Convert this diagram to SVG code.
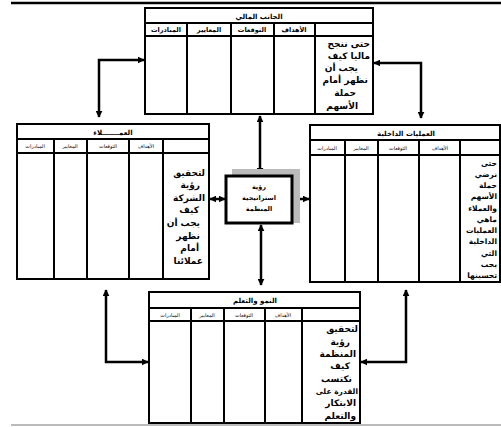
<svg xmlns="http://www.w3.org/2000/svg" width="501" height="427" viewBox="0 0 501 427">
<style>
.box{fill:#fff;stroke:#000;stroke-width:2}
.ln{stroke:#000;stroke-width:2}
.cn{fill:none;stroke:#000;stroke-width:2.5}
.t{font-family:"DejaVu Sans",sans-serif;font-weight:bold;fill:#000}
.ttl{font-size:7px;text-anchor:middle}
.hd{font-size:5px;font-weight:normal;text-anchor:middle}
.hb{font-size:6.5px;text-anchor:middle}
.bd{font-size:9px;text-anchor:end}
.bs{font-size:7.5px;text-anchor:end}
.cb{font-size:6.5px;text-anchor:middle}
</style>
<defs>
<marker id="ah" viewBox="0 0 10 10" refX="9" refY="5" markerWidth="7" markerHeight="7" markerUnits="userSpaceOnUse" orient="auto-start-reverse">
<path d="M0,0 L10,5 L0,10 z" fill="#000"/>
</marker>
</defs>
<rect width="501" height="427" fill="#fff"/>
<line x1="11" y1="3" x2="501" y2="3" stroke="#000" stroke-width="2.5"/>
<line x1="11" y1="425" x2="501" y2="425" stroke="#777" stroke-width="1"/>

<g id="connectors">
<path class="cn" d="M99,117 L99,60 L144,60" marker-start="url(#ah)" marker-end="url(#ah)"/>
<path class="cn" d="M421,118 L421,63 L374,63" marker-start="url(#ah)" marker-end="url(#ah)"/>
<path class="cn" d="M260,116 L260,174" marker-start="url(#ah)" marker-end="url(#ah)"/>
<path class="cn" d="M261,225 L261,285" marker-start="url(#ah)" marker-end="url(#ah)"/>
<path class="cn" d="M210,199 L225,199" marker-start="url(#ah)" marker-end="url(#ah)"/>
<path class="cn" d="M293,199 L309,199" marker-start="url(#ah)" marker-end="url(#ah)"/>
<path class="cn" d="M106,290 L106,362 L148,362" marker-start="url(#ah)" marker-end="url(#ah)"/>
<path class="cn" d="M406,290 L406,362 L361,362" marker-start="url(#ah)" marker-end="url(#ah)"/>
</g>

<g id="financial">
<rect class="box" x="145" y="8" width="228" height="106"/>
<line class="ln" x1="145" y1="23" x2="373" y2="23"/>
<line class="ln" x1="145" y1="36" x2="373" y2="36"/>
<line class="ln" x1="187" y1="23" x2="187" y2="114"/>
<line class="ln" x1="231" y1="23" x2="231" y2="114"/>
<line class="ln" x1="274" y1="23" x2="274" y2="114"/>
<line class="ln" x1="315" y1="23" x2="315" y2="114"/>
<text class="t ttl" x="259" y="19">الجانب المالي</text>
<text class="t hb" x="166" y="32">المبادرات</text>
<text class="t hb" x="209" y="32">المعايير</text>
<text class="t hb" x="252" y="32">التوقعات</text>
<text class="t hb" x="294" y="32">الأهداف</text>
<text class="t bd" x="370" y="47">حتى ننجح</text>
<text class="t bd" x="370" y="59">ماليا كيف</text>
<text class="t bd" x="358" y="71">يجب أن</text>
<text class="t bd" x="368" y="83">نظهر أمام</text>
<text class="t bd" x="356" y="96">حملة</text>
<text class="t bd" x="358" y="109">الأسهم</text>
</g>

<g id="customers">
<rect class="box" x="17" y="124" width="192" height="155"/>
<line class="ln" x1="17" y1="139" x2="209" y2="139"/>
<line class="ln" x1="17" y1="153" x2="209" y2="153"/>
<line class="ln" x1="54" y1="139" x2="54" y2="279"/>
<line class="ln" x1="87" y1="139" x2="87" y2="279"/>
<line class="ln" x1="129" y1="139" x2="129" y2="279"/>
<line class="ln" x1="163" y1="139" x2="163" y2="279"/>
<text class="t ttl" x="113" y="135">العمـــــــلاء</text>
<text class="t hd" x="35" y="148">المبادرات</text>
<text class="t hd" x="70" y="148">المعايير</text>
<text class="t hd" x="108" y="148">التوقعات</text>
<text class="t hd" x="146" y="148">الأهداف</text>
<text class="t bd" x="205" y="176">لتحقيق</text>
<text class="t bd" x="200" y="188">رؤية</text>
<text class="t bd" x="205" y="201">الشركة</text>
<text class="t bd" x="199" y="213">كيف</text>
<text class="t bd" x="200" y="226">يجب أن</text>
<text class="t bd" x="200" y="239">نظهر</text>
<text class="t bd" x="199" y="251">أمام</text>
<text class="t bd" x="203" y="264">عملائنا</text>
</g>

<g id="internal">
<rect class="box" x="310" y="125" width="190" height="157"/>
<line class="ln" x1="310" y1="140" x2="500" y2="140"/>
<line class="ln" x1="310" y1="155" x2="500" y2="155"/>
<line class="ln" x1="345" y1="140" x2="345" y2="282"/>
<line class="ln" x1="378" y1="140" x2="378" y2="282"/>
<line class="ln" x1="419" y1="140" x2="419" y2="282"/>
<line class="ln" x1="460" y1="140" x2="460" y2="282"/>
<text class="t ttl" x="406" y="136">العمليات الداخلية</text>
<text class="t hd" x="327" y="150">المبادرات</text>
<text class="t hd" x="361" y="150">المعايير</text>
<text class="t hd" x="398" y="150">التوقعات</text>
<text class="t hd" x="440" y="150">الأهداف</text>
<text class="t bs" x="497" y="166">حتى</text>
<text class="t bs" x="497" y="177">نرضي</text>
<text class="t bs" x="497" y="188">حملة</text>
<text class="t bs" x="497" y="199">الأسهم</text>
<text class="t bs" x="497" y="211">والعملاء</text>
<text class="t bs" x="497" y="222">ماهي</text>
<text class="t bs" x="497" y="233">العمليات</text>
<text class="t bs" x="497" y="244">الداخلية</text>
<text class="t bs" x="497" y="256">التي</text>
<text class="t bs" x="497" y="267">يجب</text>
<text class="t bs" x="497" y="278">تحسينها</text>
</g>

<g id="learning">
<rect class="box" x="149" y="292" width="211" height="131"/>
<line class="ln" x1="149" y1="308" x2="360" y2="308"/>
<line class="ln" x1="149" y1="321" x2="360" y2="321"/>
<line class="ln" x1="191" y1="308" x2="191" y2="423"/>
<line class="ln" x1="224" y1="308" x2="224" y2="423"/>
<line class="ln" x1="265" y1="308" x2="265" y2="423"/>
<line class="ln" x1="302" y1="308" x2="302" y2="423"/>
<text class="t ttl" x="255" y="303">النمو والتعلم</text>
<text class="t hd" x="170" y="317">المبادرات</text>
<text class="t hd" x="207" y="317">المعايير</text>
<text class="t hd" x="244" y="317">التوقعات</text>
<text class="t hd" x="283" y="317">الأهداف</text>
<text class="t bd" x="358" y="332">لتحقيق</text>
<text class="t bd" x="350" y="345">رؤية</text>
<text class="t bd" x="356" y="357">المنظمة</text>
<text class="t bd" x="350" y="369">كيف</text>
<text class="t bd" x="352" y="382">نكتسب</text>
<text class="t bs" x="358" y="394">القدرة على</text>
<text class="t bd" x="356" y="406">الابتكار</text>
<text class="t bd" x="356" y="419">والتعلم</text>
</g>

<g id="vision">
<rect x="232" y="169" width="68" height="54" fill="#bbb"/>
<rect x="226" y="176" width="66" height="47" fill="#fff" stroke="#000" stroke-width="3"/>
<text class="t cb" x="259" y="189">رؤية</text>
<text class="t cb" x="259" y="200">استراتيجية</text>
<text class="t cb" x="259" y="211">المنظمة</text>
</g>
</svg>
